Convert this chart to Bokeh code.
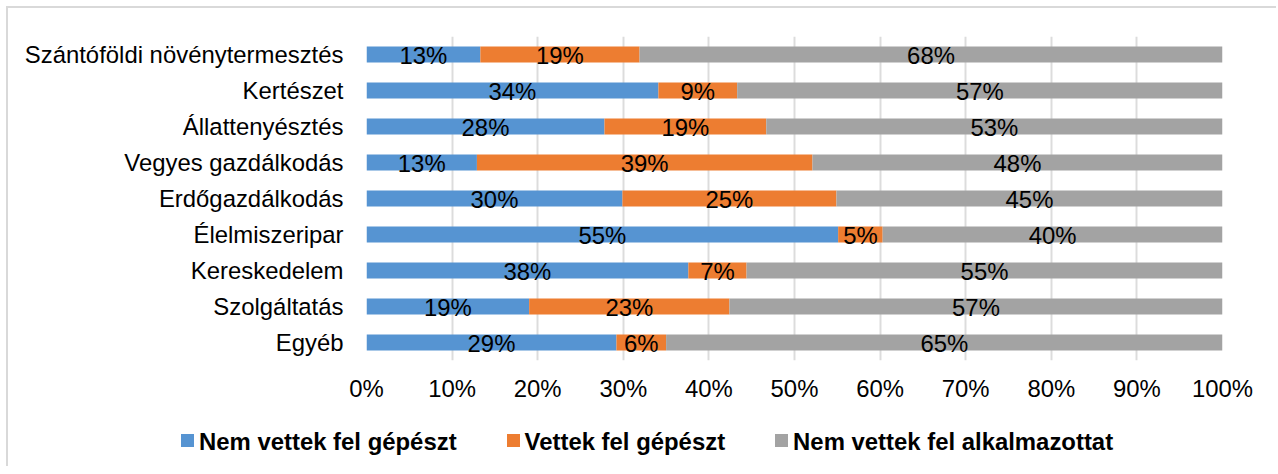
from bokeh.plotting import figure
from bokeh.layouts import column
from bokeh.models import ColumnDataSource, FactorRange, Range1d, FixedTicker, PrintfTickFormatter, Div
from bokeh.core.properties import value
from bokeh.embed import file_html
from bokeh.resources import INLINE

categories = ["Szántóföldi növénytermesztés", "Kertészet", "Állattenyésztés",
              "Vegyes gazdálkodás", "Erdőgazdálkodás", "Élelmiszeripar",
              "Kereskedelem", "Szolgáltatás", "Egyéb"]
series_names = ["Nem vettek fel gépészt", "Vettek fel gépészt", "Nem vettek fel alkalmazottat"]
nem_gepesz = [13.3, 34.1, 27.8, 12.9, 29.9, 55.1, 37.6, 19.0, 29.2]
vettek_gepesz = [18.6, 9.2, 18.9, 39.2, 25.0, 5.2, 6.8, 23.4, 5.8]
nem_alkalmazott = [68.1, 56.7, 53.3, 47.9, 45.1, 39.7, 55.6, 57.6, 65.0]
labels_1 = ["13%", "34%", "28%", "13%", "30%", "55%", "38%", "19%", "29%"]
labels_2 = ["19%", "9%", "19%", "39%", "25%", "5%", "7%", "23%", "6%"]
labels_3 = ["68%", "57%", "53%", "48%", "45%", "40%", "55%", "57%", "65%"]
x_ticks = [0, 10, 20, 30, 40, 50, 60, 70, 80, 90, 100]

colors = ["#5694d2", "#ed7d31", "#a3a3a3"]
FONT = "Liberation Sans"
FS = "23.9px"

series = [nem_gepesz, vettek_gepesz, nem_alkalmazott]
label_sets = [labels_1, labels_2, labels_3]

W = 1268
H1, H2 = 400, 58
p = figure(width=W, height=H1, output_backend="svg", toolbar_location=None,
           y_range=FactorRange(factors=list(reversed(categories)), range_padding=0),
           x_range=Range1d(0, 100),
           min_border_left=358, min_border_right=W - 358 - 856, min_border_top=28,
           min_border_bottom=H1 - 28 - 324)
p.outline_line_color = None
p.background_fill_color = "white"
p.border_fill_color = "white"

left = [0.0] * len(categories)
for vals, col, labs in zip(series, colors, label_sets):
    right = [l + v for l, v in zip(left, vals)]
    mid = [(l + r) / 2 for l, r in zip(left, right)]
    src = ColumnDataSource(dict(cat=categories, left=left, right=right, mid=mid, lab=labs))
    p.hbar(y="cat", left="left", right="right", height=0.44, source=src,
           fill_color=col, line_color=None)
    p.text(x="mid", y="cat", text="lab", source=src, text_align="center",
           text_baseline="middle", text_font=value(FONT), text_font_size=FS,
           text_color="#000000", y_offset=1)
    left = right

p.xaxis.ticker = FixedTicker(ticks=x_ticks)
p.xaxis.formatter = PrintfTickFormatter(format="%d%%")
for ax in (p.xaxis, p.yaxis):
    ax.axis_line_color = None
    ax.major_tick_line_color = None
    ax.minor_tick_line_color = None
    ax.major_tick_out = 0
    ax.major_tick_in = 0
    ax.major_label_text_font = FONT
    ax.major_label_text_font_size = FS
    ax.major_label_text_color = "#000000"
p.xaxis.major_label_standoff = 14
p.yaxis.major_label_standoff = 23

p.xgrid.grid_line_color = "#dcdcdc"
p.xgrid.grid_line_width = 2
p.xgrid.ticker = FixedTicker(ticks=x_ticks)
p.ygrid.grid_line_color = None

# legend row (HTML, so it can span wider than the plot frame)
items_html = "".join(
    f'<span style="display:inline-block;width:13px;height:13px;background:{c};'
    f'margin-right:5px;vertical-align:middle;position:relative;top:-1px;"></span>'
    f'<span style="margin-right:50px;vertical-align:middle;">{n}</span>'
    for n, c in zip(series_names, colors))
legend_html = (f'<div style="padding-left:173px;padding-top:18px;line-height:27px;'
               f'font-family:\'{FONT}\';font-size:{FS};font-weight:bold;color:#000;'
               f'white-space:nowrap;margin:0;">{items_html}</div>')
legend_div = Div(text=legend_html, width=W, height=H2, margin=0)

layout = column(p, legend_div, spacing=0)
layout.styles = {"border-left": "2px solid #d9d9d9", "border-top": "2px solid #d9d9d9",
                 "margin-left": "6px", "margin-top": "6px"}

open("out.html", "w").write(file_html(layout, INLINE))
